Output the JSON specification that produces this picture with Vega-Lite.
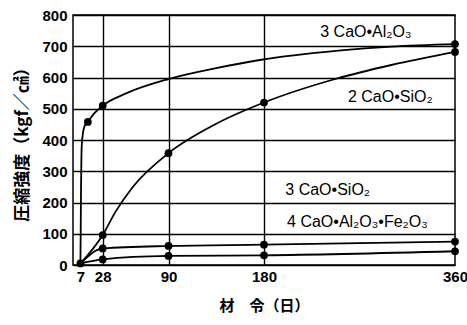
{
  "$schema": "https://vega.github.io/schema/vega-lite/v6.json",
  "width": 382,
  "height": 250,
  "autosize": "none",
  "padding": {"left": 73, "top": 15, "right": 12, "bottom": 60},
  "background": "white",
  "config": {
    "view": {"stroke": "black", "strokeWidth": 1.5},
    "font": "Liberation Sans"
  },
  "datasets": {
    "curves": [
      {"series": "C3A", "day": 7, "value": 5},
      {"series": "C3A", "day": 7.6, "value": 250},
      {"series": "C3A", "day": 8.2, "value": 380},
      {"series": "C3A", "day": 9.5, "value": 425},
      {"series": "C3A", "day": 11, "value": 445},
      {"series": "C3A", "day": 14, "value": 458},
      {"series": "C3A", "day": 20, "value": 485},
      {"series": "C3A", "day": 28, "value": 510},
      {"series": "C3A", "day": 50, "value": 549},
      {"series": "C3A", "day": 90, "value": 595},
      {"series": "C3A", "day": 135, "value": 630},
      {"series": "C3A", "day": 176, "value": 656},
      {"series": "C3A", "day": 250, "value": 686},
      {"series": "C3A", "day": 300, "value": 699},
      {"series": "C3A", "day": 360, "value": 707},
      {"series": "C2S", "day": 7, "value": 5},
      {"series": "C2S", "day": 28, "value": 96},
      {"series": "C2S", "day": 40, "value": 170},
      {"series": "C2S", "day": 56, "value": 248},
      {"series": "C2S", "day": 90, "value": 358},
      {"series": "C2S", "day": 135, "value": 452},
      {"series": "C2S", "day": 180, "value": 520},
      {"series": "C2S", "day": 248, "value": 596},
      {"series": "C2S", "day": 300, "value": 640},
      {"series": "C2S", "day": 360, "value": 682},
      {"series": "C3S", "day": 7, "value": 5},
      {"series": "C3S", "day": 28, "value": 53},
      {"series": "C3S", "day": 90, "value": 61},
      {"series": "C3S", "day": 180, "value": 65},
      {"series": "C3S", "day": 360, "value": 75},
      {"series": "C4AF", "day": 7, "value": 5},
      {"series": "C4AF", "day": 28, "value": 18},
      {"series": "C4AF", "day": 90, "value": 29},
      {"series": "C4AF", "day": 180, "value": 31},
      {"series": "C4AF", "day": 360, "value": 44}
    ],
    "measured": [
      {"series": "C3A", "day": 7, "value": 5},
      {"series": "C3A", "day": 14, "value": 458},
      {"series": "C3A", "day": 28, "value": 510},
      {"series": "C3A", "day": 360, "value": 707},
      {"series": "C2S", "day": 28, "value": 96},
      {"series": "C2S", "day": 90, "value": 358},
      {"series": "C2S", "day": 180, "value": 520},
      {"series": "C2S", "day": 360, "value": 682},
      {"series": "C3S", "day": 28, "value": 53},
      {"series": "C3S", "day": 90, "value": 61},
      {"series": "C3S", "day": 180, "value": 65},
      {"series": "C3S", "day": 360, "value": 75},
      {"series": "C4AF", "day": 28, "value": 18},
      {"series": "C4AF", "day": 90, "value": 29},
      {"series": "C4AF", "day": 180, "value": 31},
      {"series": "C4AF", "day": 360, "value": 44}
    ],
    "labels": [
      {"text": "3 CaO•Al₂O₃", "day": 276, "value": 747},
      {"text": "2 CaO•SiO₂", "day": 299, "value": 538},
      {"text": "3 CaO•SiO₂", "day": 240, "value": 240},
      {"text": "4 CaO•Al₂O₃•Fe₂O₃", "day": 268, "value": 139}
    ]
  },
  "encoding": {
    "x": {
      "field": "day",
      "type": "quantitative",
      "scale": {"domain": [0, 360], "nice": false, "zero": false},
      "axis": {
        "values": [7, 28, 90, 180, 360],
        "title": "材　令（日）",
        "titleFont": "Noto Sans CJK JP",
        "titleFontSize": 15,
        "titleFontWeight": "bold",
        "titlePadding": 14,
        "titleColor": "black",
        "labelFontSize": 15,
        "labelFontWeight": "bold",
        "labelColor": "black",
        "labelPadding": 4,
        "labelFlush": false,
        "ticks": false,
        "domain": false,
        "grid": true,
        "gridColor": "black",
        "gridWidth": 1.4,
        "gridOpacity": {"condition": {"test": "datum.value == 7 || datum.value == 360", "value": 0}, "value": 1}
      }
    },
    "y": {
      "field": "value",
      "type": "quantitative",
      "scale": {"domain": [0, 800], "nice": false},
      "axis": {
        "values": [0, 100, 200, 300, 400, 500, 600, 700, 800],
        "title": "圧縮強度（kgf／㎠）",
        "titleFont": "Noto Sans CJK JP",
        "titleFontSize": 17,
        "titleFontWeight": "bold",
        "titleColor": "black",
        "titlePadding": 10,
        "labelFontSize": 15,
        "labelFontWeight": "bold",
        "labelColor": "black",
        "labelPadding": 6,
        "ticks": false,
        "domain": false,
        "grid": true,
        "gridColor": "black",
        "gridWidth": 1.4
      }
    }
  },
  "layer": [
    {
      "data": {"name": "curves"},
      "mark": {"type": "line", "interpolate": "monotone", "color": "black", "strokeWidth": 1.8},
      "encoding": {"detail": {"field": "series"}}
    },
    {
      "data": {"name": "measured"},
      "mark": {"type": "point", "filled": true, "color": "black", "opacity": 1, "size": 60},
      "encoding": {}
    },
    {
      "data": {"name": "labels"},
      "mark": {"type": "text", "fontSize": 16, "color": "black", "font": "Liberation Sans", "align": "center", "baseline": "middle"},
      "encoding": {"text": {"field": "text"}}
    }
  ]
}
